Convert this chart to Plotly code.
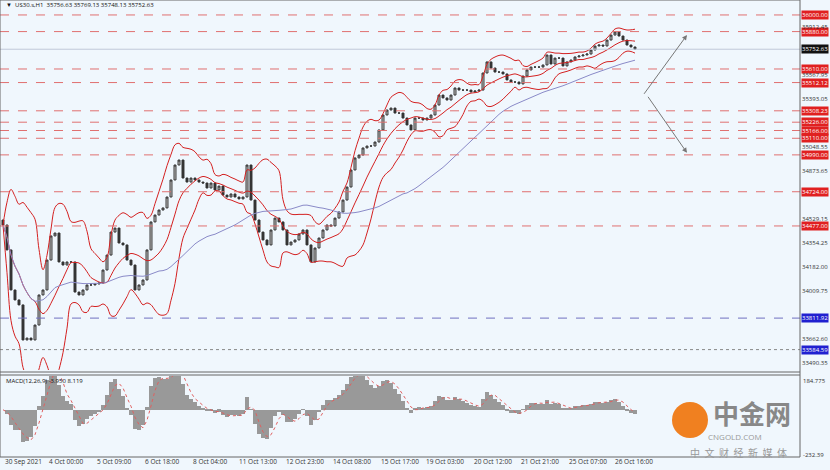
import plotly.graph_objects as go
import pandas as pd
import numpy as np

closes = [34484,34304,34015,33943,33907,33654,33668,33654,33762,33979,34015,34231,34405,34426,34217,34195,34217,34217,34000,33979,
34015,34051,34051,34058,34065,34159,34267,34433,34462,34354,34340,34231,34195,34015,34051,34087,34304,34506,34556,34592,
34607,34686,34809,34917,34953,34823,34794,34823,34809,34794,34787,34751,34787,34737,34765,34700,34686,34708,34686,34672,
34686,34917,34664,34520,34433,34376,34340,34448,34534,34506,34448,34340,34361,34376,34419,34448,34340,34217,34318,34390,
34448,34484,34477,34534,34578,34664,34758,34881,34968,34989,35040,35054,35054,35083,35170,35278,35314,35328,35292,35292,
35256,35206,35170,35256,35256,35242,35256,35278,35350,35422,35401,35386,35422,35473,35458,35458,35458,35444,35451,35458,
35581,35661,35617,35588,35588,35574,35531,35516,35516,35502,35559,35603,35624,35624,35624,35639,35711,35646,35689,35689,
35632,35661,35675,35697,35704,35711,35718,35747,35776,35783,35776,35819,35855,35877,35848,35819,35783,35769,35753]
first_open = 34520

red_levels = [36000.00,35880.00,35610.00,35512.12,35308.23,35226.00,35166.00,35110.00,34990.00,34724.00,34477.00]
blue_levels = [33811.92,33584.59]
gray_ticks = ["35912.45","35567.95","35393.05","35048.55","34873.65","34529.15","34354.25","34182.00","34009.75","33662.60","33490.35"]
current = 35752.63
time_labels = ["30 Sep 2021","4 Oct 00:00","5 Oct 09:00","6 Oct 18:00","8 Oct 04:00","11 Oct 13:00","12 Oct 23:00",
               "14 Oct 08:00","15 Oct 17:00","19 Oct 03:00","20 Oct 12:00","21 Oct 21:00","25 Oct 07:00","26 Oct 16:00"]
time_pos = [0,11,23,35,47,58.5,70.3,82,94,105.3,117.3,129,141,152.5]

c = pd.Series(closes, dtype=float)
o = pd.Series([first_open] + closes[:-1], dtype=float)
idx = np.arange(len(c))
mid = c.rolling(9, min_periods=1).mean()
sd = c.rolling(9, min_periods=1).std().fillna(0)
up, lo = mid + 2.0*sd, mid - 2.0*sd
ma = c.rolling(40, min_periods=1).mean()
macd = c.ewm(span=3).mean() - c.ewm(span=7).mean()
sig = macd.rolling(3, min_periods=1).mean()

W, H = 830, 470
fig = go.Figure()
fig.add_trace(go.Candlestick(x=idx, open=o, high=np.maximum(o, c), low=np.minimum(o, c), close=c,
    increasing=dict(line=dict(color="#333", width=1), fillcolor="#d0d0d0"),
    decreasing=dict(line=dict(color="#333", width=1), fillcolor="#333"), whiskerwidth=0, xaxis="x", yaxis="y"))
for s in (up, mid, lo):
    fig.add_trace(go.Scatter(x=idx, y=s, mode="lines", line=dict(color="#d42020", width=1, shape="spline"), xaxis="x", yaxis="y"))
fig.add_trace(go.Scatter(x=idx, y=ma, mode="lines", line=dict(color="#8a8ac8", width=1), xaxis="x", yaxis="y"))
fig.add_trace(go.Bar(x=idx, y=macd, marker=dict(color="#999", line=dict(width=0)), width=0.9, xaxis="x2", yaxis="y2"))
fig.add_trace(go.Scatter(x=idx, y=sig, mode="lines", line=dict(color="#e06060", width=1, dash="dot"), xaxis="x2", yaxis="y2"))

xr = [-0.75, 199.25]
ytop, ybot = 36108, 36108 - 7.218*370
shapes, ann = [], []
lab = dict(showarrow=False, xanchor="left", yanchor="middle", borderpad=0, xref="paper", yref="y", x=801/W)
for lv in red_levels:
    shapes.append(dict(type="line", xref="x", yref="y", x0=xr[0], x1=xr[1], y0=lv, y1=lv, line=dict(color="#e07070", width=1, dash="dash")))
    ann.append(dict(lab, y=lv, text=f"{lv:.2f}", bgcolor="#e02020", font=dict(color="white", size=6)))
for lv, d in zip(blue_levels, ["dash", "dot"]):
    shapes.append(dict(type="line", xref="x", yref="y", x0=xr[0], x1=xr[1], y0=lv, y1=lv, line=dict(color="#7070c0" if d=="dash" else "#888", width=1, dash=d)))
    ann.append(dict(lab, y=lv, text=f"{lv:.2f}", bgcolor="#2020d0", font=dict(color="white", size=6)))
shapes.append(dict(type="line", xref="x", yref="y", x0=xr[0], x1=xr[1], y0=current, y1=current, line=dict(color="#c0c8d8", width=1)))
ann.append(dict(lab, y=current, text=f"{current:.2f}", bgcolor="#111", font=dict(color="white", size=6)))
for t in gray_ticks:
    ann.append(dict(lab, y=float(t), text=t, font=dict(color="#333", size=6)))
for t, p in zip(time_labels, time_pos):
    ann.append(dict(xref="x2", yref="paper", x=p, y=2/H, text=t, showarrow=False, xanchor="left", yanchor="bottom", font=dict(color="#333", size=6.5)))
for (x0, y0, x1, y1) in [(160, 35420, 171, 35855), (161, 35420, 171, 35005)]:
    ann.append(dict(xref="x", yref="y", ax=x0, ay=y0, axref="x", ayref="y", x=x1, y=y1, showarrow=True,
                    arrowhead=2, arrowsize=1, arrowwidth=1, arrowcolor="#777", text=""))
def pa(x, y, text, size, color, xa="center", fam=None):
    f = dict(size=size, color=color)
    if fam: f["family"] = fam
    return dict(xref="paper", yref="paper", x=x/W, y=1-y/H, text=text, showarrow=False, xanchor=xa, yanchor="middle", font=f)
ann += [
    pa(4, 5, "▼  US30.s,H1  35756.63 35769.13 35748.13 35752.63", 6, "#111", "left"),
    pa(801, 381, "184.775", 6, "#333", "left"),
    pa(801, 455, "-232.39", 6, "#333", "left"),
    pa(752, 412, "<b>中金网</b>", 26, "#888", "center", "Noto Sans CJK SC"),
    pa(735, 436, "CNGOLD.COM", 8, "#999"),
    pa(738, 452, "中  文  财  经  新  媒  体", 10, "#999", "center", "Noto Sans CJK SC"),
]
shapes += [
    dict(type="circle", xref="paper", yref="paper", x0=672/W, x1=708/W, y0=1-438/H, y1=1-402/H, fillcolor="#f08020", line=dict(width=0)),
    dict(type="line", xref="paper", yref="paper", x0=0, x1=800/W, y0=1-372/H, y1=1-372/H, line=dict(color="#666", width=1)),
    dict(type="line", xref="paper", yref="paper", x0=0, x1=800/W, y0=1-375/H, y1=1-375/H, line=dict(color="#666", width=1)),
    dict(type="rect", xref="paper", yref="paper", x0=0, x1=800/W, y0=1-457/H, y1=1, line=dict(color="#666", width=1)),
]
fig.update_layout(width=W, height=H, margin=dict(l=0, r=0, t=0, b=0), showlegend=False,
    paper_bgcolor="#f0f7fd", plot_bgcolor="#f0f7fd", shapes=shapes, annotations=ann,
    xaxis=dict(domain=[0, 800/W], range=xr, showticklabels=False, showgrid=False, zeroline=False, rangeslider=dict(visible=False)),
    yaxis=dict(domain=[1-370/H, 1], range=[ybot, ytop], showticklabels=False, showgrid=False, zeroline=False),
    xaxis2=dict(domain=[0, 800/W], range=xr, showticklabels=False, showgrid=False, zeroline=False, anchor="y2"),
    yaxis2=dict(domain=[1-457/H, 1-376/H], range=[-175, 125], showticklabels=False, showgrid=False, zeroline=False, anchor="x2"),
    bargap=0)
fig.add_annotation(pa(4, 381, "MACD(12,26,9) -3.950 8.119", 6, "#111", "left"))
fig.write_html("out.html", config=dict(displayModeBar=False),
               post_script="document.body.style.margin='0';document.body.style.overflow='hidden';document.documentElement.style.overflow='hidden';")
